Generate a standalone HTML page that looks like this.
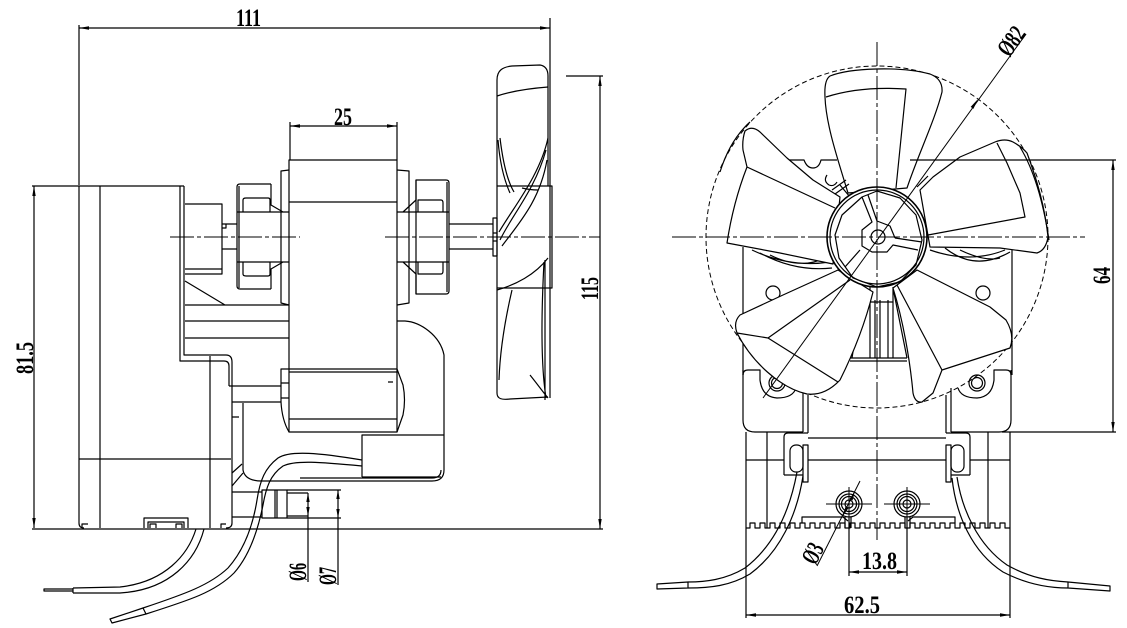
<!DOCTYPE html>
<html><head><meta charset="utf-8"><style>
html,body{margin:0;padding:0;background:#fff;}
svg{display:block;}
text{font-family:"Liberation Serif",serif;font-size:25px;font-weight:bold;fill:#000;stroke:none;}
</style></head><body>
<svg width="1127" height="628" viewBox="0 0 1127 628" xmlns="http://www.w3.org/2000/svg">
<rect width="1127" height="628" fill="#fff"/>
<g fill="none" stroke="#000" stroke-width="1.2" stroke-linejoin="round">

<!-- ================= LEFT VIEW ================= -->
<path d="M79,28 H550 M79,25 V185 M550,18 V398"/>
<path d="M34,186 V528 M32,186 H79"/>
<path d="M32,529 H603"/>
<path d="M600,76 V529 M566,76 H603"/>
<path d="M290,126 H397 M290,122 V160 M397,122 V160"/>

<!-- gearbox -->
<path d="M79,186 H184 M79,186 V523 Q79,528 84,528"/>
<path d="M100,186 V528"/>
<path d="M180,186 V361 H224 Q229,361 229,366 V386"/>
<path d="M184,186 V355 H226 Q232,355 232,362 V523 Q232,528 226,528"/>
<path d="M210,356 V528 M79,459 H231"/>
<path d="M144,528 V518 H188 V528 M148,528 V522 H184 V528 M150,528 V524 H156 V528 M176,528 V524 H182 V528"/>
<path d="M82,528 V524 H88 M226,524 H221 V528"/>
<path d="M185,204 H222 V274 H185 M185,269 H222"/>
<path d="M222,224 H237 M222,249 H237 M222,228 H226 V224"/>
<path d="M185,281 L225,305 M185,305 H289 M185,321 H289 M185,338 H289"/>
<path d="M229,386 H281 M232,402 H281 M243,403 V470 Q245,481 262,481 M232,417 H239"/>
<path d="M232,473 L242,464 M232,486 L243,473"/>

<!-- left bracket & clip -->
<path d="M289,170 L281,171 V303 L289,305"/>
<path d="M271,184 H240 Q237,184 237,187 V286 Q237,289 240,289 H271 M239,186 V288"/>
<path d="M237,212 H289 M243,212 V200 Q243,198 246,198 H268 Q270,198 270,200 V212 M271,184 V205 L283,212"/>
<path d="M237,262 H289 M243,262 V274 Q243,276 246,276 H268 Q270,276 270,274 V262 M271,289 V269 L283,262"/>

<!-- stator -->
<path d="M289,160 H397 V432 H289 Z M289,202 H397"/>
<path d="M289,369 H397 M289,372 H397 M289,419 H397"/>
<path d="M397,369 L403,385 Q406,400 403,415 L397,432"/>
<path d="M289,369 H281 V402 Q282,420 289,432 M281,383 H289 M281,398 H289 M388,382 H393"/>

<!-- right bracket & clip -->
<path d="M397,170 L409,171 V303 L397,305"/>
<path d="M416,180 H446 Q449,180 449,183 V291 Q449,294 446,294 H416 Z M447,182 V292"/>
<path d="M397,212 H449 M418,212 V200 H441 Q443,200 443,203 V212 M416,180 V200 L403,212"/>
<path d="M397,262 H449 M418,262 V274 H441 Q443,274 443,271 V262 M416,294 V274 L403,262"/>

<!-- shaft -->
<path d="M449,224 H493 M449,249 H493"/>
<path d="M493,218 H497 V256 H493 Z M493,233 H497 M493,241 H497"/>

<!-- capacitor enclosure -->
<path d="M397,321 H405 C420,322 440,335 444,355 V470 Q444,481 432,481 H262"/>
<path d="M300,478 H432 Q441,478 441,470"/>
<path d="M362,477 V435 H444 M362,477 H441"/>

<!-- connector -->
<path d="M232,492 H262 M232,517 H262"/>
<path d="M262,490 H287 V518 H262 Z M275,490 V518 M277,490 V518"/>
<path d="M287,493 H308 M287,516 H308"/>
<path d="M287,490 H341 M287,518 H341"/>
<path d="M308,493 V582 M338,490 V585"/>

<!-- wires left -->
<path d="M196,529 C188,555 165,582 120,587 L73,588"/>
<path d="M204,529 C196,560 170,590 120,593 L73,593"/>
<path d="M73,588 V593 M73,589 H44 V591 H73"/>
<path d="M362,460 C320,453 290,450 278,458 C265,468 260,480 257,500 C253,525 244,550 228,568 C210,585 185,594 143,608"/>
<path d="M362,466 C320,462 295,460 283,466 C270,475 266,488 263,505 C258,530 250,555 234,573 C215,592 190,600 146,614"/>
<path d="M143,608 L110,619 L112,623 L146,614 Z"/>

<!-- fan side -->
<path d="M497,186 H552 V288 H497 Z"/>
<path d="M497,186 V80 C497,70 503,67 512,66 L540,65 C546,66 548,70 548,76 V186"/>
<path d="M497,96 C515,90 535,88 548,87"/>
<path d="M498,140 C500,165 505,182 510,193 M500,138 C503,163 508,182 514,192"/>
<path d="M548,138 C540,175 515,205 499,232 M546,150 C535,190 512,215 500,240 M547,160 C540,200 520,222 502,246"/>
<path d="M522,188 Q530,190 538,190 M548,258 C535,275 515,285 497,290"/>
<path d="M497,288 V393 C497,399 502,400 510,399 L548,397"/>
<path d="M512,290 C505,320 500,350 499,380 M544,262 C542,300 540,360 546,398 M530,375 C538,385 543,392 548,398 M545,260 V400"/>

<path d="M170,237 H300 M385,237 H600" stroke-width="1" stroke-dasharray="24 3 4 3"/>

<!-- ================= RIGHT VIEW ================= -->
<path d="M743,247 V375 M1012,247 V375"/>
<path d="M788,160 H804 Q807,168 813,168 Q819,168 821,160 H837"/>
<path d="M752,250 Q790,268 830,262 M760,253 Q795,272 832,268 M770,255 Q800,270 825,258"/>
<path d="M930,250 Q970,264 1005,250 M945,248 Q975,272 1010,252 M960,250 Q985,262 1000,258"/>
<circle cx="773" cy="293" r="7"/><circle cx="983" cy="293" r="7"/>
<path d="M863,288 L852,358 M893,288 L907,358 M870,287 V358 M893,287 V358 M875,300 V358 M880,300 V358 M888,300 V358 M870,302 H893 M850,358 H907 M850,361 H907"/>
<path d="M743,375 Q743,370 748,370 H760 V380 Q762,397 777,398 Q793,398 796,388"/>
<path d="M743,370 V420 Q743,432 755,432 H803 M803,388 V432 M808,395 V433"/>
<path d="M1011,375 Q1011,370 1006,370 H994 V380 Q992,397 977,398 Q961,398 958,388"/>
<path d="M1011,370 V420 Q1011,432 999,432 H951 M951,388 V432 M946,395 V433"/>
<circle cx="777" cy="383" r="8"/><circle cx="777" cy="383" r="5.5"/>
<circle cx="977" cy="383" r="8"/><circle cx="977" cy="383" r="5.5"/>
<path d="M746,432 V618 M1010,432 V618 M767,432 V528 M988,432 V528"/>
<path d="M746,460 H784 M808,460 H946 M970,460 H1010 M808,438 H946"/>
<path d="M784,475 V437 Q784,433 788,433 H808 M784,475 H803"/>
<rect x="790" y="445" width="13" height="27" rx="6"/>
<path d="M803,445 H808 V482 H803 Z"/>
<path d="M970,475 V437 Q970,433 966,433 H946 M970,475 H951"/>
<rect x="951" y="445" width="13" height="27" rx="6"/>
<path d="M946,445 H951 V482 H946 Z"/>
<path d="M746,528 H750 V523 H755 V528 H760 V523 H765 V528 H770 V523 H775 V528 H780 V523 H785 V528 H790 V523 H795 V528 H800 V523 H805 V528 H810 V523 H815 V528 H820 V523 H825 V528 H830 V523 H835 V528 H840 V523 H845 V528 H850 V523 H855 V528 H860 V523 H865 V528 H870 V523 H875 V528 H880 V523 H885 V528 H890 V523 H895 V528 H900 V523 H905 V528 H910 V523 H915 V528 H920 V523 H925 V528 H930 V523 H935 V528 H940 V523 H945 V528 H950 V523 H955 V528 H960 V523 H965 V528 H970 V523 H975 V528 H980 V523 H985 V528 H990 V523 H995 V528 H1000 V523 H1005 V528 H1010"/>
<path d="M802,523 V517 H843 L848,521 M955,523 V517 H913 L908,521"/>
<path d="M845,517 V528 M851,517 V528 M905,517 V528 M910,517 V528"/>
<circle cx="849" cy="504" r="13"/><circle cx="849" cy="504" r="10"/><circle cx="849" cy="504" r="7.5"/><circle cx="849" cy="504" r="4"/>
<circle cx="907" cy="504" r="13"/><circle cx="907" cy="504" r="10"/><circle cx="907" cy="504" r="7.5"/><circle cx="907" cy="504" r="4"/>
<path d="M826,504 H872 M849,487 V521 M884,504 H930 M907,487 V521" stroke-width="1"/>

<path d="M797,472 C790,510 775,545 745,568 C725,580 705,582 688,582"/>
<path d="M803,476 C797,515 780,552 750,574 C730,586 710,588 688,588"/>
<path d="M688,582 L657,584 V589 L688,588 Z"/>
<path d="M957,477 C962,510 978,545 1007,565 C1030,578 1050,581 1068,582"/>
<path d="M952,478 C956,515 972,552 1003,572 C1028,585 1050,588 1068,588"/>
<path d="M1068,582 L1110,586 V591 L1068,588 Z"/>

<circle cx="877" cy="237" r="171" stroke-width="1" stroke-dasharray="5 3"/>

<g fill="#fff">
<path d="M848,193 C838,160 826,125 825,97 Q824,80 830,76 C850,68 900,66 930,74 Q943,79 942,92 C935,120 918,155 907,188 Z"/>
<path d="M840,197 L813,180 L787,158 L760,132 Q752,125 745,131 Q742,140 743,150 L747,167 C740,185 732,210 727,243 L780,253 L833,264 Z"/>
<path d="M920,190 L933,177 L960,157 L995,142 Q1005,138 1013,142 Q1022,147 1027,153 C1037,180 1045,207 1048,237 Q1046,250 1037,253 L1000,248 L930,247 Z"/>
<path d="M838,270 L783,295 L740,315 Q733,322 737,333 C752,362 780,388 807,394 Q825,396 840,380 C855,350 866,320 873,292 Z"/>
<path d="M893,288 C903,320 910,360 913,393 Q915,403 922,402 L933,393 L942,370 L1010,348 Q1015,335 1006,320 L990,307 L917,270 Z"/>
</g>
<path d="M826,97 Q860,86 906,89 L896,188"/>
<path d="M747,167 L835,208 M750,122 Q730,140 720,172"/>
<path d="M997,143 L1007,163 L1020,193 L1025,217 L928,235 M1020,147 Q1040,180 1049,240"/>
<path d="M737,333 L768,338 L850,280 M768,338 L838,382"/>
<path d="M897,285 L942,370"/>
<path d="M827,175 q-4,6 2,10 q5,2 8,-3 M832,190 L846,180 M835,194 L849,184"/>
<path d="M850,197 L840,185 M917,187 L928,176"/>

<circle cx="877" cy="237" r="50" fill="#fff" stroke-width="1.6"/>
<circle cx="877" cy="237" r="47"/>
<path d="M862,197 L842,215 L835,235 L839,258 L853,278 L877,287 L900,282 L916,265 L922,240 L916,215 L900,198 L877,191 Z"/>
<path d="M862,197 L872,222 L862,230 L862,246 L872,252 L887,252 L893,245 L918,250 M895,238 L922,242 M868,195 L877,221 L890,226 L895,238 M860,250 L845,267"/>
<circle cx="878" cy="237" r="7"/>

<path d="M672,237 H1085 M877,42 V540" stroke-width="1" stroke-dasharray="24 3 4 3"/>

<path d="M1026,34 L763,398" stroke-width="1"/>
<path d="M860,481 L817,566" stroke-width="1"/>
<path d="M1113,160 V432 M910,160 H1116 M1002,432 H1116"/>
<path d="M849,518 V576 M907,518 V576 M849,572 H907"/>
<path d="M746,615 H1010"/>
</g>

<g fill="#000" stroke="none">
<polygon points="79,28 89,26.3 89,29.7"/>
<polygon points="550,28 540,26.3 540,29.7"/>
<polygon points="290,126 300,124.3 300,127.7"/>
<polygon points="397,126 387,124.3 387,127.7"/>
<polygon points="34,186 32.3,196 35.7,196"/>
<polygon points="34,528 32.3,518 35.7,518"/>
<polygon points="600,76 598.3,86 601.7,86"/>
<polygon points="600,529 598.3,519 601.7,519"/>
<polygon points="308,493 306.3,502 309.7,502"/>
<polygon points="308,516 306.3,507 309.7,507"/>
<polygon points="338,490 336.3,499 339.7,499"/>
<polygon points="338,518 336.3,509 339.7,509"/>
<polygon points="1113,160 1111.3,170 1114.7,170"/>
<polygon points="1113,432 1111.3,422 1114.7,422"/>
<polygon points="849,572 859,570.3 859,573.7"/>
<polygon points="907,572 897,570.3 897,573.7"/>
<polygon points="746,615 756,613.3 756,616.7"/>
<polygon points="1010,615 1000,613.3 1000,616.7"/>
<polygon points="978,99 970.7,106.9 973.4,108.9"/>
<polygon points="855,491 849.5,499 852.5,500.5"/>
<polygon points="843,516 848.5,508 845.5,506.5"/>
</g>

<text x="236" y="26" textLength="25" lengthAdjust="spacingAndGlyphs">111</text>
<text x="334" y="125" textLength="18" lengthAdjust="spacingAndGlyphs">25</text>
<text transform="translate(33,374) rotate(-90)" x="0" y="0" textLength="32" lengthAdjust="spacingAndGlyphs">81.5</text>
<text transform="translate(598,300) rotate(-90)" x="0" y="0" textLength="23" lengthAdjust="spacingAndGlyphs">115</text>
<text transform="translate(306,581) rotate(-90)" x="0" y="0" textLength="18" lengthAdjust="spacingAndGlyphs">Ø6</text>
<text transform="translate(336,585) rotate(-90)" x="0" y="0" textLength="18" lengthAdjust="spacingAndGlyphs">Ø7</text>
<text transform="translate(1110,284) rotate(-90)" x="0" y="0" textLength="17" lengthAdjust="spacingAndGlyphs">64</text>
<text x="862" y="569" textLength="35" lengthAdjust="spacingAndGlyphs">13.8</text>
<text x="844" y="613" textLength="36" lengthAdjust="spacingAndGlyphs">62.5</text>
<text transform="translate(1018,46) rotate(-54)" x="0" y="0" text-anchor="middle" textLength="30" lengthAdjust="spacingAndGlyphs">Ø82</text>
<text transform="translate(820,557) rotate(-63)" x="0" y="0" text-anchor="middle" textLength="20" lengthAdjust="spacingAndGlyphs">Ø3</text>
</svg>
</body></html>
